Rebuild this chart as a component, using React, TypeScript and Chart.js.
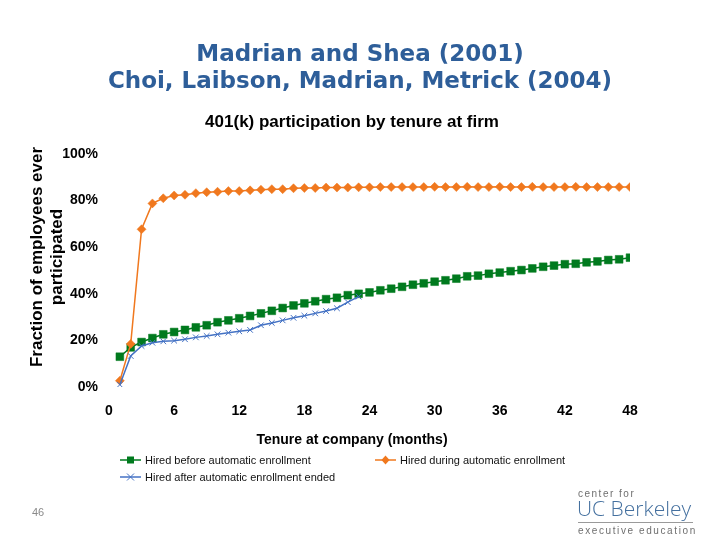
import React, { useEffect, useRef } from 'react';
import { Chart, registerables } from 'chart.js';

Chart.register(...registerables);

const headline = ['Madrian and Shea (2001)', 'Choi, Laibson, Madrian, Metrick (2004)'];
const chartTitle = '401(k) participation by tenure at firm';
const xTitle = 'Tenure at company (months)';
const yTitle = ['Fraction of employees ever', 'participated'];
const seriesNames = ['Hired before automatic enrollment', 'Hired during automatic enrollment', 'Hired after automatic enrollment ended'];
const pageNumber = '46';

const months = [1, 2, 3, 4, 5, 6, 7, 8, 9, 10, 11, 12, 13, 14, 15, 16, 17, 18, 19, 20, 21, 22, 23, 24,
  25, 26, 27, 28, 29, 30, 31, 32, 33, 34, 35, 36, 37, 38, 39, 40, 41, 42, 43, 44, 45, 46, 47, 48];

const hiredBefore = [13.0, 17.0, 19.3, 21.0, 22.6, 23.6, 24.5, 25.6, 26.5, 27.8, 28.6, 29.5, 30.5, 31.6,
  32.7, 33.9, 35.0, 35.9, 36.8, 37.7, 38.3, 39.4, 40.0, 40.6, 41.5, 42.2, 43.0, 43.9, 44.5, 45.2, 45.8,
  46.5, 47.5, 47.8, 48.6, 49.1, 49.7, 50.2, 50.9, 51.6, 52.1, 52.7, 52.9, 53.5, 53.9, 54.5, 54.8, 55.5];

const hiredDuring = [2.7, 18.5, 67.7, 78.8, 81.0, 82.2, 82.5, 83.2, 83.6, 83.8, 84.1, 84.1, 84.4, 84.7,
  84.9, 84.9, 85.3, 85.4, 85.4, 85.6, 85.6, 85.6, 85.7, 85.7, 85.8, 85.8, 85.8, 85.8, 85.8, 85.9, 85.8,
  85.8, 85.9, 85.8, 85.8, 85.9, 85.8, 85.8, 85.9, 85.8, 85.8, 85.8, 85.9, 85.8, 85.8, 85.8, 85.8, 85.8];

const hiredAfter = [1.0, 13.3, 17.6, 19.0, 19.6, 19.9, 20.5, 21.3, 21.9, 22.6, 23.3, 23.9, 24.5, 26.5,
  27.5, 28.6, 29.7, 30.6, 31.6, 32.6, 33.8, 36.4, 38.8];

const xTicks = [0, 6, 12, 18, 24, 30, 36, 42, 48];
const yTicks = [0, 20, 40, 60, 80, 100];

const GREEN = '#007A1E';
const ORANGE = '#F0781E';
const BLUE = '#4472C4';
const NAVY = '#2E5E99';
const SANS = '"Liberation Sans", Arial, sans-serif';

function drawMarker(ctx: CanvasRenderingContext2D, kind: string, x: number, y: number, color: string) {
  ctx.save();
  ctx.fillStyle = color;
  ctx.strokeStyle = color;
  if (kind === 'rect') {
    ctx.fillRect(x - 3.5, y - 3.5, 7, 7);
  } else if (kind === 'diamond') {
    ctx.beginPath();
    ctx.moveTo(x, y - 4.5);
    ctx.lineTo(x + 4, y);
    ctx.lineTo(x, y + 4.5);
    ctx.lineTo(x - 4, y);
    ctx.closePath();
    ctx.fill();
  } else {
    ctx.lineWidth = 1;
    ctx.beginPath();
    ctx.moveTo(x - 3.5, y - 3.5);
    ctx.lineTo(x + 3.5, y + 3.5);
    ctx.moveTo(x + 3.5, y - 3.5);
    ctx.lineTo(x - 3.5, y + 3.5);
    ctx.stroke();
  }
  ctx.restore();
}

const decorPlugin = {
  id: 'decor',
  afterDraw(chart: any) {
    const ctx: CanvasRenderingContext2D = chart.ctx;
    ctx.save();
    ctx.textAlign = 'center';
    ctx.textBaseline = 'middle';

    // Headline
    ctx.fillStyle = NAVY;
    ctx.font = `bold 23px "DejaVu Sans", Verdana, sans-serif`;
    ctx.fillText(headline[0], 360, 55);
    ctx.fillText(headline[1], 360, 82);

    // Chart title
    ctx.fillStyle = '#000';
    ctx.font = `bold 17px ${SANS}`;
    ctx.fillText(chartTitle, 352, 122);

    // X title
    ctx.font = `bold 14px ${SANS}`;
    ctx.fillText(xTitle, 352, 440);

    // Y title
    ctx.save();
    ctx.font = `bold 17px ${SANS}`;
    ctx.translate(37, 257);
    ctx.rotate(-Math.PI / 2);
    ctx.fillText(yTitle[0], 0, 0);
    ctx.fillText(yTitle[1], 0, 20);
    ctx.restore();

    // Legend
    const items = [
      { name: seriesNames[0], color: GREEN, kind: 'rect', x: 120, y: 460 },
      { name: seriesNames[1], color: ORANGE, kind: 'diamond', x: 375, y: 460 },
      { name: seriesNames[2], color: BLUE, kind: 'cross', x: 120, y: 477 },
    ];
    ctx.font = `11px ${SANS}`;
    ctx.textAlign = 'left';
    for (const it of items) {
      ctx.strokeStyle = it.color;
      ctx.lineWidth = 1.5;
      ctx.beginPath();
      ctx.moveTo(it.x, it.y);
      ctx.lineTo(it.x + 21, it.y);
      ctx.stroke();
      drawMarker(ctx, it.kind, it.x + 10.5, it.y, it.color);
      ctx.fillStyle = '#111';
      ctx.fillText(it.name, it.x + 25, it.y + 0.5);
    }

    // Page number
    ctx.fillStyle = '#8a8a8a';
    ctx.font = `11px ${SANS}`;
    ctx.fillText(pageNumber, 32, 513);

    // Logo
    ctx.fillStyle = '#6f6f6f';
    ctx.font = `10px ${SANS}`;
    (ctx as any).letterSpacing = '1.5px';
    ctx.fillText('center for', 578, 494);
    (ctx as any).letterSpacing = '0px';
    ctx.fillStyle = '#44709F';
    ctx.font = `300 21px "Open Sans", "DejaVu Sans", sans-serif`;
    ctx.fillText('UC Berkeley', 577, 510);
    ctx.strokeStyle = '#9a9a9a';
    ctx.lineWidth = 1;
    ctx.beginPath();
    ctx.moveTo(578, 522.5);
    ctx.lineTo(693, 522.5);
    ctx.stroke();
    ctx.fillStyle = '#6f6f6f';
    ctx.font = `10px ${SANS}`;
    (ctx as any).letterSpacing = '1.6px';
    ctx.fillText('executive education', 578, 531);
    (ctx as any).letterSpacing = '0px';

    ctx.restore();
  },
};

export default function App() {
  const ref = useRef<HTMLCanvasElement | null>(null);

  useEffect(() => {
    if (!ref.current) return;
    const toPts = (vals: number[]) => vals.map((v, i) => ({ x: months[i], y: v }));
    const tickFont = { family: SANS, size: 14, weight: 'bold' as const };
    const chart = new Chart(ref.current, {
      type: 'line',
      data: {
        datasets: [
          {
            label: seriesNames[0],
            data: toPts(hiredBefore),
            borderColor: GREEN,
            backgroundColor: GREEN,
            borderWidth: 1.5,
            pointStyle: 'rect',
            pointRadius: 5.5,
            pointBorderWidth: 0.5,
            tension: 0,
            order: 3,
          },
          {
            label: seriesNames[1],
            data: toPts(hiredDuring),
            borderColor: ORANGE,
            backgroundColor: ORANGE,
            borderWidth: 1.5,
            pointStyle: 'rectRot',
            pointRadius: 4.5,
            pointBorderWidth: 0.5,
            tension: 0,
            order: 2,
          },
          {
            label: seriesNames[2],
            data: toPts(hiredAfter),
            borderColor: BLUE,
            backgroundColor: BLUE,
            borderWidth: 1.5,
            pointStyle: 'crossRot',
            pointRadius: 4,
            pointBorderWidth: 1,
            tension: 0,
            order: 1,
          },
        ],
      },
      options: {
        animation: false,
        responsive: false,
        devicePixelRatio: 1,
        layout: { padding: { top: 154, left: 0, right: 90, bottom: 92 } },
        plugins: {
          legend: { display: false },
          tooltip: { enabled: false },
          title: { display: false },
        },
        scales: {
          x: {
            type: 'linear',
            min: 0,
            max: 48,
            afterBuildTicks: (s: any) => { s.ticks = xTicks.map((v) => ({ value: v })); },
            ticks: { color: '#000', font: tickFont, padding: 16, maxRotation: 0 },
            grid: { display: false, drawTicks: false },
            border: { display: false },
            afterFit: (s: any) => { s.height = 61; },
          },
          y: {
            min: 0,
            max: 100,
            afterBuildTicks: (s: any) => { s.ticks = yTicks.map((v) => ({ value: v })); },
            ticks: { color: '#000', font: tickFont, padding: 11, callback: (v: any) => `${v}%` },
            grid: { display: false, drawTicks: false },
            border: { display: false },
            afterFit: (s: any) => { s.width = 109; },
          },
        },
      },
      plugins: [decorPlugin],
    });
    return () => chart.destroy();
  }, []);

  return (
    <div style={{ position: 'absolute', left: 0, top: 0, width: 720, height: 540, background: '#fff' }}>
      <canvas ref={ref} width={720} height={540} style={{ width: 720, height: 540, display: 'block' }} />
    </div>
  );
}
